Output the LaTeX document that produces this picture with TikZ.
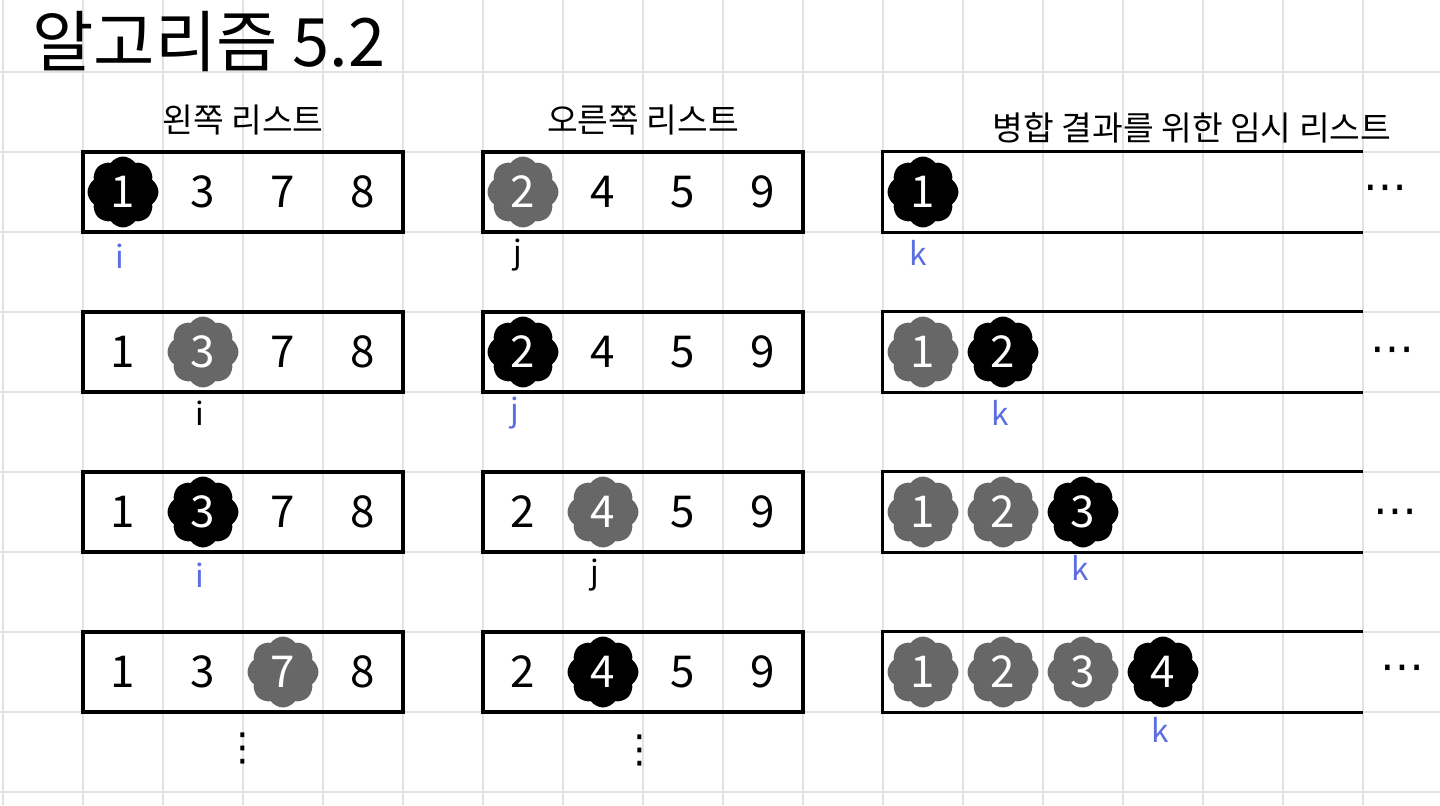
\documentclass[tikz,border=0pt]{standalone}
\usepackage{fontspec}
\setmainfont{Noto Sans CJK KR}
\newfontfamily\symfont{DejaVu Sans}
\usepackage{tikz}
\usetikzlibrary{positioning,shapes.symbols}
\definecolor{sheetGrid}{HTML}{E2E2E2}
\definecolor{sheetInk}{HTML}{000000}
\definecolor{sheetGray}{HTML}{676767}
\definecolor{sheetBlue}{HTML}{5B6EE1}

\begin{document}
\begin{tikzpicture}[
  x=0.02cm,y=-0.02cm,
  gridline/.style={sheetGrid,line width=1.1pt},
  listbox/.style={draw=sheetInk,line width=2pt,minimum width=6.4cm,minimum height=1.6cm,inner sep=0pt},
  tempbox/.style={minimum width=9.6cm,minimum height=1.6cm,inner sep=0pt},
  listline/.style={sheetInk,line width=2pt},
  head/.style={font=\fontsize{19}{23}\selectfont,inner sep=0pt},
  num/.style={font=\fontsize{25}{30}\selectfont,inner sep=0pt},
  blob/.style={num,cloud,cloud puffs=8,cloud puff arc=110,cloud ignores aspect,fill=#1,text=white,minimum width=1.42cm,minimum height=1.42cm},
  numblack/.style={blob=sheetInk},
  numgray/.style={blob=sheetGray},
  ptr/.style={font=\fontsize{18}{22}\selectfont,text=#1,inner sep=0pt},
  ptr/.default=sheetInk,
  more/.style={font=\symfont\fontsize{25}{30}\selectfont,inner sep=0pt}
]
  \useasboundingbox (0,0) rectangle (1440,805);
  % grid paper
  \foreach \gx in {3,83,...,1443} \draw[gridline] (\gx,0) -- (\gx,805);
  \foreach \gy in {72,152,...,792} \draw[gridline] (0,\gy) -- (1440,\gy);

  \node[anchor=west,font=\fontsize{38}{44}\selectfont] (title) at (26,42) {알고리즘 5.2};

  % row 1
  \node[listbox] (L1) at (243,192) {};
  \node[listbox] (R1) at (643,192) {};
  \node[tempbox] (T1) at (1123,192) {};
  \draw[listline] (T1.north east) -- (T1.north west) -- (T1.south west) -- (T1.south east);
  \node[head,above=3mm of L1] (leftHead) {왼쪽 리스트};
  \node[head,above=3mm of R1] (rightHead) {오른쪽 리스트};
  \node[head] (tempHead) at (1192,128) {병합 결과를 위한 임시 리스트};
  \foreach \v/\s [count=\c] in {1/numblack,3/num,7/num,8/num}
    \node[\s] (L1-\c) at (43+80*\c,192) {\v};
  \foreach \v/\s [count=\c] in {2/numgray,4/num,5/num,9/num}
    \node[\s] (R1-\c) at (443+80*\c,192) {\v};
  \node[numblack] (T1-1) at (923,192) {1};
  \node[more] (T1-more) at (1385,193) {⋯};
  \node[ptr=sheetBlue] (i1) at (120,256) {i};
  \node[ptr] (j1) at (518,255) {j};
  \node[ptr=sheetBlue] (k1) at (918,253) {k};

  % row 2
  \node[listbox] (L2) at (243,352) {};
  \node[listbox] (R2) at (643,352) {};
  \node[tempbox] (T2) at (1123,352) {};
  \draw[listline] (T2.north east) -- (T2.north west) -- (T2.south west) -- (T2.south east);
  \foreach \v/\s [count=\c] in {1/num,3/numgray,7/num,8/num}
    \node[\s] (L2-\c) at (43+80*\c,352) {\v};
  \foreach \v/\s [count=\c] in {2/numblack,4/num,5/num,9/num}
    \node[\s] (R2-\c) at (443+80*\c,352) {\v};
  \foreach \v/\s [count=\c] in {1/numgray,2/numblack}
    \node[\s] (T2-\c) at (843+80*\c,352) {\v};
  \node[more] (T2-more) at (1392,355) {⋯};
  \node[ptr] (i2) at (200,413) {i};
  \node[ptr=sheetBlue] (j2) at (515,413) {j};
  \node[ptr=sheetBlue] (k2) at (1000,413) {k};

  % row 3
  \node[listbox] (L3) at (243,512) {};
  \node[listbox] (R3) at (643,512) {};
  \node[tempbox] (T3) at (1123,512) {};
  \draw[listline] (T3.north east) -- (T3.north west) -- (T3.south west) -- (T3.south east);
  \foreach \v/\s [count=\c] in {1/num,3/numblack,7/num,8/num}
    \node[\s] (L3-\c) at (43+80*\c,512) {\v};
  \foreach \v/\s [count=\c] in {2/num,4/numgray,5/num,9/num}
    \node[\s] (R3-\c) at (443+80*\c,512) {\v};
  \foreach \v/\s [count=\c] in {1/numgray,2/numgray,3/numblack}
    \node[\s] (T3-\c) at (843+80*\c,512) {\v};
  \node[more] (T3-more) at (1395,517) {⋯};
  \node[ptr=sheetBlue] (i3) at (200,575) {i};
  \node[ptr] (j3) at (595,575) {j};
  \node[ptr=sheetBlue] (k3) at (1080,568) {k};

  % row 4
  \node[listbox] (L4) at (243,672) {};
  \node[listbox] (R4) at (643,672) {};
  \node[tempbox] (T4) at (1123,672) {};
  \draw[listline] (T4.north east) -- (T4.north west) -- (T4.south west) -- (T4.south east);
  \foreach \v/\s [count=\c] in {1/num,3/num,7/numgray,8/num}
    \node[\s] (L4-\c) at (43+80*\c,672) {\v};
  \foreach \v/\s [count=\c] in {2/num,4/numblack,5/num,9/num}
    \node[\s] (R4-\c) at (443+80*\c,672) {\v};
  \foreach \v/\s [count=\c] in {1/numgray,2/numgray,3/numgray,4/numblack}
    \node[\s] (T4-\c) at (843+80*\c,672) {\v};
  \node[more] (T4-more) at (1402,673) {⋯};
  \node[ptr=sheetBlue] (k4) at (1160,730) {k};
  \node[more,font=\symfont\fontsize{22}{26}\selectfont] (L4-more) at (243,748) {⋮};
  \node[more,font=\symfont\fontsize{22}{26}\selectfont] (R4-more) at (640,750) {⋮};
\end{tikzpicture}
\end{document}
